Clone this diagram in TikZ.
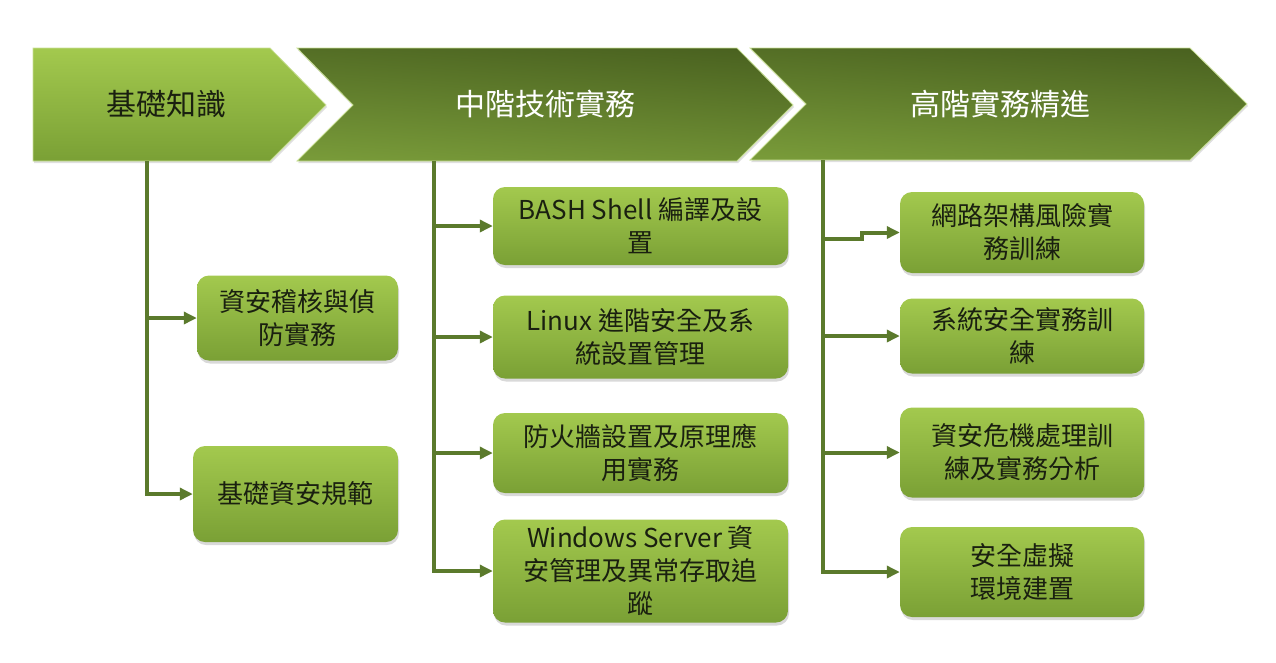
\documentclass[tikz,border=0pt]{standalone}
\usepackage{fontspec}
\setmainfont{Noto Sans CJK TC}
\usetikzlibrary{arrows.meta,shadows}
\definecolor{LG}{HTML}{A3C94E}
\definecolor{LGd}{HTML}{7AA035}
\definecolor{DG}{HTML}{4A6220}
\definecolor{DGl}{HTML}{789A39}
\definecolor{LN}{HTML}{5B7A2C}
\definecolor{TX}{HTML}{1A2010}

\begin{document}
\begin{tikzpicture}[x=1pt, y=-1pt,
  box/.style={rounded corners=12pt, top color=LG, bottom color=LGd, align=center, text=TX,
    inner sep=0pt, font=\fontsize{26}{33}\selectfont,
    drop shadow={opacity=0.3, shadow xshift=1pt, shadow yshift=-3pt}},
  chev/.style={draw=LG!60!white, line width=0.8pt,
    drop shadow={opacity=0.25, shadow xshift=1pt, shadow yshift=-2pt}},
  head/.style={font=\fontsize{30}{36}\selectfont},
  link/.style={draw=LN, line width=4pt, line join=miter,
    -{Triangle[length=13pt,width=12pt]}}]

  \useasboundingbox (0,0) rectangle (1276,662);

  % chevrons
  \path[chev, top color=LG, bottom color=LGd]
    (33,48) -- (270,48) -- (326,105) -- (270,161) -- (33,161) -- cycle;
  \path[chev, top color=DG, bottom color=DGl, shading angle=-4]
    (297,48) -- (737,48) -- (793,105) -- (737,161) -- (297,161) -- (353,105) -- cycle;
  \path[chev, top color=DG, bottom color=DGl, shading angle=-4]
    (750,48) -- (1190,48) -- (1247,104) -- (1190,160) -- (750,160) -- (806,104) -- cycle;

  \node[head, text=TX]    (h1) at (166,104) {基礎知識};
  \node[head, text=white] (h2) at (545,104) {中階技術實務};
  \node[head, text=white] (h3) at (1000,104) {高階實務精進};

  \coordinate (k1) at (147,161);
  \coordinate (k2) at (434,161);
  \coordinate (k3) at (823,160);

  % column 1
  \node[box, minimum width=201pt, minimum height=85pt] (a1) at (297.5,318) {資安稽核與偵\\防實務};
  \node[box, minimum width=205pt, minimum height=96pt] (a2) at (295.5,494) {基礎資安規範};

  % column 2
  \node[box, minimum width=295pt, minimum height=78pt]  (b1) at (640.5,226) {BASH Shell 編譯及設\\置};
  \node[box, minimum width=295pt, minimum height=83pt]  (b2) at (640.5,337) {Linux 進階安全及系\\統設置管理};
  \node[box, minimum width=295pt, minimum height=80pt]  (b3) at (640.5,453) {防火牆設置及原理應\\用實務};
  \node[box, minimum width=295pt, minimum height=103pt] (b4) at (640.5,571) {Windows Server 資\\安管理及異常存取追\\蹤};

  % column 3
  \node[box, minimum width=244pt, minimum height=81pt] (c1) at (1022,232.5) {網路架構風險實\\務訓練};
  \node[box, minimum width=244pt, minimum height=75pt] (c2) at (1022,336) {系統安全實務訓\\練};
  \node[box, minimum width=244pt, minimum height=90pt] (c3) at (1022,452.5) {資安危機處理訓\\練及實務分析};
  \node[box, minimum width=244pt, minimum height=90pt] (c4) at (1022,572) {安全虛擬\\環境建置};

  \draw[link] (k1) |- (a1.west); %% h1->a1
  \draw[link] (k1) |- (a2.west); %% h1->a2

  \draw[link] (k2) |- (b1.west);
  \draw[link] (k2) |- (b2.west);
  \draw[link] (k2) |- (b3.west);
  \draw[link] (k2) |- (b4.west);

  \coordinate (jog) at (862,239);
  \draw[link] (k3) |- (jog) |- (c1.west); % little step
  \draw[link] (k3) |- (c2.west);
  \draw[link] (k3) |- (c3.west);
  \draw[link] (k3) |- (c4.west);

\end{tikzpicture}
\end{document}
